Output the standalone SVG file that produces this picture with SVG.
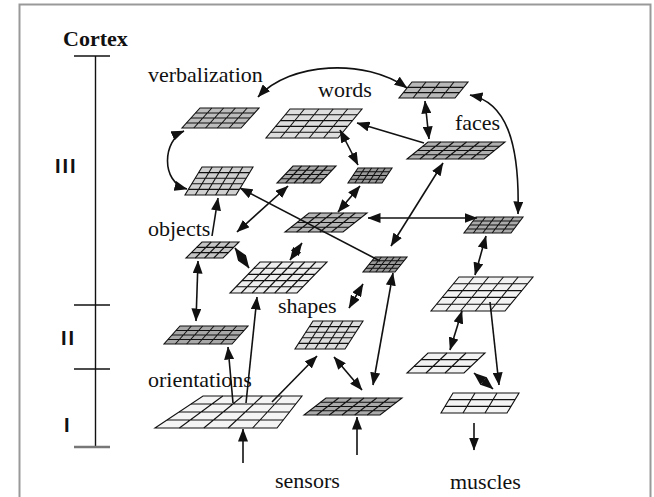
<svg xmlns="http://www.w3.org/2000/svg" xmlns:xlink="http://www.w3.org/1999/xlink" width="654" height="497" viewBox="0 0 654 497">
<style>
.lbl{font-family:"Liberation Serif","Times New Roman",serif;font-size:22px;fill:#111}
.lvl{font-family:"Liberation Sans",Arial,sans-serif;font-size:20px;font-weight:bold;fill:#111;letter-spacing:2px}
.c line,.c path{stroke:#111;stroke-width:1.6;fill:none}
.one{marker-end:url(#ah)}
.two{marker-start:url(#ah);marker-end:url(#ah)}
</style>
<defs>
<marker id="ah" viewBox="0 0 13 10" refX="12.5" refY="5" markerWidth="13" markerHeight="10" markerUnits="userSpaceOnUse" orient="auto-start-reverse"><path d="M0,0L13,5L0,10z" fill="#111"/></marker>
<g id="g5x4"><rect width="1" height="1" stroke="#111" stroke-width="1.1" vector-effect="non-scaling-stroke"/><path d="M.2 0V1M.4 0V1M.6 0V1M.8 0V1M0 .25H1M0 .5H1M0 .75H1" fill="none" stroke="#111" stroke-width="1.1" vector-effect="non-scaling-stroke"/></g>
<g id="g5x5"><rect width="1" height="1" stroke="#111" stroke-width="1.1" vector-effect="non-scaling-stroke"/><path d="M.2 0V1M.4 0V1M.6 0V1M.8 0V1M0 .2H1M0 .4H1M0 .6H1M0 .8H1" fill="none" stroke="#111" stroke-width="1.1" vector-effect="non-scaling-stroke"/></g>
<g id="g4x3"><rect width="1" height="1" stroke="#111" stroke-width="1.1" vector-effect="non-scaling-stroke"/><path d="M.25 0V1M.5 0V1M.75 0V1M0 .3333H1M0 .6667H1" fill="none" stroke="#111" stroke-width="1.1" vector-effect="non-scaling-stroke"/></g>
<g id="g6x4"><rect width="1" height="1" stroke="#111" stroke-width="1.1" vector-effect="non-scaling-stroke"/><path d="M.1667 0V1M.3333 0V1M.5 0V1M.6667 0V1M.8333 0V1M0 .25H1M0 .5H1M0 .75H1" fill="none" stroke="#111" stroke-width="1.1" vector-effect="non-scaling-stroke"/></g>
<g id="g6x5"><rect width="1" height="1" stroke="#111" stroke-width="1.1" vector-effect="non-scaling-stroke"/><path d="M.1667 0V1M.3333 0V1M.5 0V1M.6667 0V1M.8333 0V1M0 .2H1M0 .4H1M0 .6H1M0 .8H1" fill="none" stroke="#111" stroke-width="1.1" vector-effect="non-scaling-stroke"/></g>
<g id="g3x3"><rect width="1" height="1" stroke="#111" stroke-width="1.1" vector-effect="non-scaling-stroke"/><path d="M.3333 0V1M.6667 0V1M0 .3333H1M0 .6667H1" fill="none" stroke="#111" stroke-width="1.1" vector-effect="non-scaling-stroke"/></g>
</defs>
<rect width="654" height="497" fill="#fff"/>
<rect x="19.5" y="4.5" width="631" height="500" fill="none" stroke="#999" stroke-width="2"/>

<g id="axis">
<text class="lbl" x="63" y="46" font-weight="bold">Cortex</text>
<line x1="95.5" y1="56" x2="95.5" y2="447" stroke="#111" stroke-width="1.4"/>
<line x1="74" y1="56" x2="110" y2="56" stroke="#111" stroke-width="1.4"/>
<line x1="74" y1="305" x2="110" y2="305" stroke="#111" stroke-width="1.4"/>
<line x1="74" y1="369" x2="110" y2="369" stroke="#111" stroke-width="1.4"/>
<line x1="74" y1="447" x2="110" y2="447" stroke="#777" stroke-width="2.5"/>
<text class="lvl" x="55" y="173">III</text>
<text class="lvl" x="61" y="345">II</text>
<text class="lvl" x="64" y="432">I</text>
</g>

<g id="p1"><use xlink:href="#g5x4" fill="#bdbdbd" transform="matrix(59,0,-18,20,200,108)"/></g>
<g id="p2"><use xlink:href="#g5x5" fill="#dedede" transform="matrix(72,0,-24,29,290,109)"/></g>
<g id="p3"><use xlink:href="#g4x3" fill="#b8b8b8" transform="matrix(56,0,-13,16,412,82)"/></g>
<g id="p4"><use xlink:href="#g6x4" fill="#b0b0b0" transform="matrix(77,0,-21,17,428,142)"/></g>
<g id="p5"><use xlink:href="#g5x5" fill="#d0d0d0" transform="matrix(51,0,-17,28,202,167)"/></g>
<g id="p6"><use xlink:href="#g5x4" fill="#a8a8a8" transform="matrix(43,0,-16,17,293,166)"/></g>
<g id="p7"><use xlink:href="#g5x4" fill="#999" transform="matrix(34,0,-10,15,358,168)"/></g>
<g id="p8"><use xlink:href="#g5x4" fill="#b5b5b5" transform="matrix(58,0,-24,19,309,213)"/></g>
<g id="p9"><use xlink:href="#g5x4" fill="#aaa" transform="matrix(47,0,-12,16,476,217)"/></g>
<g id="p10"><use xlink:href="#g4x3" fill="#c5c5c5" transform="matrix(37,0,-16,16,202,242)"/></g>
<g id="p11"><use xlink:href="#g5x4" fill="#999" transform="matrix(32,0,-12,15,375,257)"/></g>
<g id="p12"><use xlink:href="#g6x5" fill="#eee" transform="matrix(67,0,-30,31,260,262)"/></g>
<g id="p13"><use xlink:href="#g5x5" fill="#f2f2f2" transform="matrix(74,0,-28,34,459,277)"/></g>
<g id="p14"><use xlink:href="#g6x4" fill="#a8a8a8" transform="matrix(68,0,-16,18,180,326)"/></g>
<g id="p15"><use xlink:href="#g5x5" fill="#ddd" transform="matrix(50,0,-18,28,313,321)"/></g>
<g id="p16"><use xlink:href="#g3x3" fill="#f2f2f2" transform="matrix(57,0,-21,20,428,353)"/></g>
<g id="p17"><use xlink:href="#g3x3" fill="#f4f4f4" transform="matrix(66,0,-12,20,453,393)"/></g>
<g id="p18"><path d="M203,396L302,396L277,428L155,428Z" fill="#f4f4f4" stroke="#111" stroke-width="1.1"/><path d="M222.8,396L179.4,428M242.6,396L203.8,428M262.4,396L228.2,428M282.2,396L252.6,428M191,404L295.75,404M179,412L289.5,412M167,420L283.25,420" fill="none" stroke="#111" stroke-width="1.1"/></g>
<g id="p19"><use xlink:href="#g6x4" fill="#aaa" transform="matrix(76,0,-22,17,326,398)"/></g>

<g id="labels">
<text class="lbl" x="148" y="82">verbalization</text>
<text class="lbl" x="318" y="97">words</text>
<text class="lbl" x="455" y="130">faces</text>
<text class="lbl" x="148" y="236">objects</text>
<text class="lbl" x="278" y="313">shapes</text>
<text class="lbl" x="148" y="387">orientations</text>
<text class="lbl" x="275" y="488">sensors</text>
<text class="lbl" x="450" y="489">muscles</text>
</g>

<g id="connectors" class="c">
<path class="two" d="M258,97 C290,62 365,58 407,88"/>
<path class="two" d="M470,95 C505,102 520,140 518,214"/>
<path class="two" d="M184,131 C163,140 160,182 187,189"/>
<line class="one" x1="424" y1="143" x2="357" y2="123"/>
<line class="two" x1="425" y1="101" x2="429" y2="139"/>
<line class="two" x1="340" y1="130" x2="358" y2="165"/>
<line class="two" x1="360" y1="186" x2="338" y2="212"/>
<line class="two" x1="368" y1="218" x2="477" y2="218"/>
<line class="two" x1="443" y1="163" x2="391" y2="246"/>
<line class="one" x1="380" y1="261" x2="240" y2="188"/>
<line class="two" x1="237" y1="232" x2="288" y2="186"/>
<line class="one" x1="212" y1="236" x2="218" y2="198"/>
<line class="two" x1="235" y1="248" x2="249" y2="268"/>
<line class="two" x1="290" y1="260" x2="302" y2="243"/>
<line class="two" x1="198" y1="261" x2="196" y2="321"/>
<line class="one" x1="246" y1="403" x2="257" y2="297"/>
<line class="one" x1="233" y1="403" x2="228" y2="347"/>
<line class="one" x1="272" y1="402" x2="317" y2="356"/>
<line class="one" x1="243" y1="463" x2="243" y2="429"/>
<line class="one" x1="357" y1="455" x2="357" y2="417"/>
<line class="two" x1="334" y1="357" x2="362" y2="390"/>
<line class="two" x1="393" y1="273" x2="373" y2="385"/>
<line class="two" x1="349" y1="308" x2="363" y2="284"/>
<line class="two" x1="486" y1="236" x2="475" y2="275"/>
<line class="two" x1="462" y1="311" x2="450" y2="350"/>
<line class="one" x1="490" y1="302" x2="499" y2="385"/>
<line class="two" x1="474" y1="373" x2="493" y2="389"/>
<line class="one" x1="474" y1="423" x2="474" y2="450"/>
</g>
</svg>
